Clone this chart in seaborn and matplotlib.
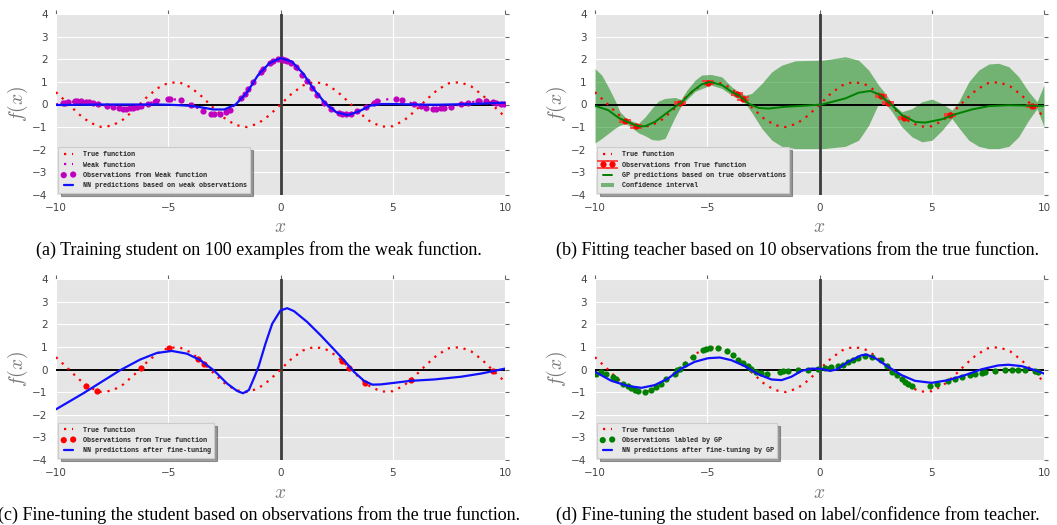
import matplotlib
matplotlib.use("Agg")
import matplotlib.pyplot as plt
from matplotlib.patches import Patch
import seaborn as sns

# --- shared curves (step 0.5) ---
x_grid = [-10.0, -9.5, -9.0, -8.5, -8.0, -7.5, -7.0, -6.5, -6.0, -5.5, -5.0, -4.5, -4.0, -3.5,
          -3.0, -2.5, -2.0, -1.5, -1.0, -0.5, 0.0, 0.5, 1.0, 1.5, 2.0, 2.5, 3.0, 3.5, 4.0, 4.5,
          5.0, 5.5, 6.0, 6.5, 7.0, 7.5, 8.0, 8.5, 9.0, 9.5, 10.0]
true_y = [0.544, 0.075, -0.412, -0.798, -0.989, -0.938, -0.657, -0.215, 0.279, 0.706, 0.959,
          0.978, 0.757, 0.351, -0.141, -0.598, -0.909, -0.997, -0.841, -0.479, 0.0, 0.479,
          0.841, 0.997, 0.909, 0.598, 0.141, -0.351, -0.757, -0.978, -0.959, -0.706, -0.279,
          0.215, 0.657, 0.938, 0.989, 0.798, 0.412, -0.075, -0.544]
weak_y = [0.0, 0.095, 0.142, 0.106, 0.0, -0.12, -0.182, -0.139, 0.0, 0.164, 0.255, 0.2, 0.0,
          -0.257, -0.424, -0.36, 0.0, 0.6, 1.273, 1.801, 2.0, 1.801, 1.273, 0.6, 0.0, -0.36,
          -0.424, -0.257, 0.0, 0.2, 0.255, 0.164, 0.0, -0.139, -0.182, -0.12, 0.0, 0.106,
          0.142, 0.095, 0.0]

# --- (a) weak observations and student NN ---
obs_a_x = [-9.70, -9.60, -9.48, -9.15, -9.06, -8.90, -8.66, -8.51, -8.36, -8.14, -7.72, -7.44,
           -7.20, -7.00, -6.88, -6.70, -6.55, -6.38, -6.21, -5.91, -5.61, -5.54, -5.01, -4.94,
           -4.42, -3.97, -3.45, -3.08, -2.95, -2.71, -2.41, -2.26, -1.74, -1.59, -1.44, -1.22,
           -0.85, -0.77, -0.48, -0.33, -0.10, 0.05, 0.12, 0.22, 0.27, 0.45, 0.67, 0.97, 1.19,
           1.41, 1.64, 1.93, 2.23, 2.60, 2.75, 2.90, 3.13, 3.42, 3.79, 4.17, 4.32, 5.13, 5.43,
           5.95, 6.25, 6.47, 6.80, 6.92, 7.14, 7.29, 7.59, 8.04, 8.33, 8.78, 8.85, 9.15, 9.45,
           9.60, 9.82, 9.95]
obs_a_y = [0.06, 0.078, 0.10, 0.135, 0.14, 0.141, 0.127, 0.107, 0.082, 0.034, -0.07, -0.132,
           -0.168, -0.182, -0.182, -0.17, -0.148, -0.113, -0.066, 0.03, 0.13, 0.152, 0.254,
           0.257, 0.177, -0.015, -0.28, -0.41, -0.43, -0.422, -0.317, -0.224, 0.291, 0.48,
           0.68, 0.982, 1.456, 1.547, 1.816, 1.912, 1.99, 2.0, 1.988, 1.961, 1.941, 1.838,
           1.65, 1.311, 1.023, 0.722, 0.416, 0.072, -0.202, -0.396, -0.428, -0.434, -0.398,
           -0.295, -0.109, 0.081, 0.141, 0.243, 0.184, 0.017, -0.078, -0.134, -0.178, -0.182,
           -0.174, -0.158, -0.101, 0.01, 0.076, 0.136, 0.14, 0.135, 0.103, 0.078, 0.036, 0.01]
nn_a_y = [-0.02, -0.02, -0.01, -0.01, 0.0, 0.0, 0.0, 0.0, 0.0, 0.0, -0.01, -0.03, -0.06, -0.13,
          -0.22, -0.22, 0.0, 0.52, 1.3, 1.82, 2.05, 1.9, 1.38, 0.65, 0.05, -0.35, -0.47, -0.3,
          -0.05, 0.02, 0.02, 0.01, 0.0, -0.01, -0.01, 0.0, 0.01, 0.02, 0.04, 0.06, 0.08]

# --- (b) teacher GP ---
obs_x = [-8.68, -8.16, -6.23, -4.96, -3.66, -3.40, 2.72, 3.03, 3.77, 5.81, 9.48]
obs_y = [-0.72, -0.97, 0.06, 0.97, 0.47, 0.26, 0.39, 0.06, -0.61, -0.48, -0.05]
obs_err = [0.05, 0.05, 0.05, 0.05, 0.05, 0.05, 0.05, 0.05, 0.05, 0.05, 0.05]
gp_x = [-10.0, -9.41, -8.96, -8.63, -8.07, -7.77, -7.33, -6.88, -6.43, -6.17, -5.69, -5.25,
        -4.87, -4.35, -3.91, -3.54, -3.16, -2.72, -2.27, -1.53, -0.79, 0.1, 1.15, 1.74, 2.26,
        2.63, 3.23, 3.67, 4.27, 4.71, 5.46, 6.05, 6.79, 7.54, 8.43, 9.69, 10.0]
gp_mean = [-0.06, -0.25, -0.58, -0.74, -0.96, -0.96, -0.77, -0.43, -0.10, 0.07, 0.56, 0.89,
           1.0, 0.86, 0.56, 0.37, 0.04, -0.15, -0.18, -0.10, -0.06, 0.0, 0.27, 0.52, 0.6,
           0.46, -0.03, -0.47, -0.77, -0.80, -0.65, -0.43, -0.22, -0.07, -0.03, -0.06, -0.06]
band_x = [-10.0, -9.70, -9.41, -9.11, -8.89, -8.63, -8.37, -8.07, -7.77, -7.47, -7.18, -6.88,
          -6.43, -6.17, -5.91, -5.54, -5.25, -4.83, -4.35, -3.91, -3.61, -3.31, -3.02, -2.57,
          -2.12, -1.68, -1.08, 0.18, 1.15, 1.74, 2.19, 2.63, 2.93, 3.23, 3.67, 4.12, 4.56,
          5.01, 5.46, 5.90, 6.20, 6.65, 7.09, 7.54, 7.98, 8.43, 8.87, 9.32, 9.69, 10.0]
band_hi = [1.59, 1.30, 0.78, 0.19, -0.32, -0.58, -0.72, -0.84, -0.55, -0.18, 0.15, 0.27,
           0.31, 0.22, 0.63, 1.08, 1.30, 1.33, 1.22, 0.78, 0.56, 0.41, 0.49, 0.93, 1.45, 1.74,
           1.93, 1.96, 2.11, 1.96, 1.52, 0.86, 0.49, 0.04, -0.32, -0.18, 0.12, 0.24, 0.04,
           -0.25, 0.12, 1.00, 1.52, 1.79, 1.82, 1.67, 1.23, 0.56, 0.12, 0.86]
band_lo = [-1.70, -1.50, -1.28, -1.05, -0.92, -0.84, -1.02, -1.25, -1.38, -1.55, -1.58, -1.50,
           -0.55, -0.07, 0.22, 0.58, 0.70, 0.86, 0.71, 0.41, 0.25, 0.05, -0.35, -1.06, -1.58,
           -1.85, -1.95, -1.95, -1.85, -1.58, -0.92, 0.04, 0.04, -0.32, -0.99, -1.43, -1.65,
           -1.58, -1.14, -0.62, -1.02, -1.58, -1.85, -1.95, -1.95, -1.85, -1.43, -0.69, -0.18,
           -0.99]

# --- (c) student fine-tuned on true observations ---
nn_c_x = [-10.0, -8.78, -8.04, -7.14, -6.25, -5.51, -4.84, -4.17, -3.57, -2.98, -2.38, -1.93,
          -1.67, -1.41, -1.19, -0.97, -0.67, -0.37, 0.0, 0.30, 0.60, 1.19, 1.79, 2.38, 2.83,
          3.27, 3.72, 4.09, 4.46, 5.06, 5.80, 6.85, 8.04, 8.93, 9.67, 10.0]
nn_c_y = [-1.76, -1.05, -0.59, -0.03, 0.44, 0.73, 0.82, 0.70, 0.41, -0.03, -0.62, -0.95,
          -1.05, -0.91, -0.40, 0.15, 1.14, 2.02, 2.61, 2.71, 2.58, 2.10, 1.51, 0.89, 0.41,
          -0.10, -0.50, -0.67, -0.66, -0.59, -0.50, -0.44, -0.32, -0.18, -0.03, 0.04]

# --- (d) student fine-tuned on GP labels ---
obs_d_x = [-9.94, -9.75, -9.49, -9.20, -9.05, -8.75, -8.53, -8.38, -8.23, -8.08, -7.79, -7.49,
           -7.27, -7.04, -6.82, -6.45, -6.33, -6.23, -6.00, -5.63, -5.19, -5.04, -4.89, -4.52,
           -4.10, -3.85, -3.63, -3.40, -3.18, -3.03, -2.81, -2.59, -2.36, -1.77, -1.62, -1.40,
           -0.95, -0.51, -0.06, 0.24, 0.46, 0.53, 0.83, 1.05, 1.28, 1.50, 1.72, 2.02, 2.32,
           2.76, 2.99, 3.21, 3.43, 3.66, 3.80, 3.95, 4.10, 4.92, 5.22, 5.74, 6.03, 6.33, 6.70,
           6.92, 7.22, 7.37, 7.82, 8.26, 8.56, 8.86, 9.15, 9.60, 9.75]
obs_d_y = [-0.18, -0.10, -0.21, -0.35, -0.40, -0.64, -0.73, -0.83, -0.91, -0.95, -0.98, -0.91,
           -0.76, -0.62, -0.44, -0.18, -0.03, 0.04, 0.26, 0.56, 0.88, 0.92, 0.97, 0.97, 0.82,
           0.66, 0.44, 0.29, 0.15, 0.04, -0.10, -0.15, -0.18, -0.10, -0.07, -0.06, -0.03, 0.0,
           0.03, 0.06, 0.07, 0.09, 0.15, 0.19, 0.34, 0.44, 0.53, 0.59, 0.56, 0.41, 0.15, -0.10,
           -0.25, -0.44, -0.54, -0.64, -0.73, -0.73, -0.66, -0.50, -0.41, -0.35, -0.25, -0.18,
           -0.15, -0.10, -0.06, -0.03, -0.03, -0.03, -0.03, -0.06, -0.10]
nn_d_x = [-10.0, -9.27, -8.53, -7.93, -7.34, -6.75, -6.15, -5.56, -4.96, -4.44, -3.92, -3.33,
          -2.73, -2.14, -1.69, -1.25, -0.80, -0.36, 0.09, 0.46, 0.76, 1.28, 1.87, 2.10, 2.47,
          3.06, 3.66, 4.25, 4.99, 5.74, 6.48, 7.22, 7.96, 8.41, 9.00, 9.60, 10.0]
nn_d_y = [-0.10, -0.50, -0.73, -0.81, -0.69, -0.40, 0.04, 0.34, 0.50, 0.53, 0.41, 0.15, -0.21,
          -0.44, -0.47, -0.32, -0.06, 0.04, 0.03, -0.06, 0.0, 0.34, 0.63, 0.66, 0.51, 0.12,
          -0.25, -0.50, -0.59, -0.47, -0.25, 0.01, 0.18, 0.21, 0.15, -0.03, -0.18]

captions = [
    "(a) Training student on 100 examples from the weak function.",
    "(b) Fitting teacher based on 10 observations from the true function.",
    "(c) Fine-tuning the student based on observations from the true function.",
    "(d) Fine-tuning the student based on label/confidence from teacher.",
]

sns.set_style("darkgrid", {"axes.facecolor": "#E5E5E5", "grid.color": "white"})
plt.rcParams["font.family"] = ["DejaVu Sans"]
plt.rcParams["mathtext.fontset"] = "cm"

dot = (0, (1, 2.6))
W, H = 1057, 525
fig = plt.figure(figsize=(W / 100, H / 100), dpi=100)
boxes = [(56, 14), (595, 14), (56, 279), (595, 279)]
axes = []
for (l, t) in boxes:
    ax = fig.add_axes([l / W, 1 - (t + 181) / H, 449 / W, 181 / H])
    axes.append(ax)

leg_kw = dict(loc="lower left", numpoints=2, scatterpoints=2, frameon=True, shadow=True,
              fancybox=False, prop={"family": "Liberation Mono", "size": 4.85, "weight": "bold"},
              borderpad=0.55, labelspacing=0.5, handlelength=2.0, handletextpad=1.1,
              borderaxespad=0.3)


def base(ax):
    ax.axhline(0, color="black", lw=1.4, zorder=3)
    ax.axvline(0, color="#3c3c3c", lw=2.0, zorder=3)
    ax.set_xlim(-10, 10)
    ax.set_ylim(-4, 4)
    ax.set_xticks([-10, -5, 0, 5, 10])
    ax.set_yticks([-4, -3, -2, -1, 0, 1, 2, 3, 4])
    ax.tick_params(direction="out", length=3, width=0.8, color="#666666", labelcolor="#444444",
                   labelsize=7.5, top=True, right=True, pad=3)
    for s in ax.spines.values():
        s.set_visible(False)
    ax.set_xlabel("$x$", fontsize=14, color="#777777", labelpad=3)
    ax.set_ylabel("$f(x)$", fontsize=14, color="#777777", labelpad=2)


def legend(ax, handles=None, labels=None):
    if handles is None:
        lg = ax.legend(**leg_kw)
    else:
        lg = ax.legend(handles, labels, **leg_kw)
    lg.get_frame().set_facecolor("#E8E8E8")
    lg.get_frame().set_edgecolor("#CCCCCC")
    lg.get_frame().set_linewidth(0.8)
    lg.get_frame().set_alpha(1)
    lg.set_zorder(10)


# (a)
ax = axes[0]
sns.lineplot(x=x_grid, y=true_y, ax=ax, color="red", lw=1.6, linestyle=dot, label="True function", zorder=4)
sns.lineplot(x=x_grid, y=weak_y, ax=ax, color="m", lw=1.6, linestyle=dot, label="Weak function", zorder=4)
sns.scatterplot(x=obs_a_x, y=obs_a_y, ax=ax, color="m", s=20, linewidth=0,
                label="Observations from Weak function", zorder=5)
sns.lineplot(x=x_grid, y=nn_a_y, ax=ax, color="#1010ff", lw=1.6, label="NN predictions based on weak observations", zorder=6)
base(ax)
legend(ax)

# (b)
ax = axes[1]
ax.fill_between(band_x, band_lo, band_hi, color="green", alpha=0.5, lw=0, zorder=2)
sns.lineplot(x=x_grid, y=true_y, ax=ax, color="red", lw=1.6, linestyle=dot, label="True function", zorder=4)
ax.errorbar(obs_x, obs_y, yerr=obs_err, fmt="o", color="red", ms=3.5, ecolor="#ff3030",
            elinewidth=1.5, capsize=4, capthick=1.2, label="Observations from True function", zorder=5)
sns.lineplot(x=gp_x, y=gp_mean, ax=ax, color="green", lw=1.4, label="GP predictions based on true observations", zorder=6)
base(ax)
h, lab = ax.get_legend_handles_labels()
h.append(Patch(facecolor="green", alpha=0.5, edgecolor="none"))
lab.append("Confidence interval")
order = [lab.index("True function"), lab.index("Observations from True function"),
         lab.index("GP predictions based on true observations"), lab.index("Confidence interval")]
legend(ax, [h[i] for i in order], [lab[i] for i in order])

# (c)
ax = axes[2]
sns.lineplot(x=x_grid, y=true_y, ax=ax, color="red", lw=1.6, linestyle=dot, label="True function", zorder=4)
sns.scatterplot(x=obs_x, y=obs_y, ax=ax, color="red", s=20, linewidth=0,
                label="Observations from True function", zorder=5)
sns.lineplot(x=nn_c_x, y=nn_c_y, ax=ax, color="#1010ff", lw=1.6, label="NN predictions after fine-tuning", zorder=6)
base(ax)
legend(ax)

# (d)
ax = axes[3]
sns.lineplot(x=x_grid, y=true_y, ax=ax, color="red", lw=1.6, linestyle=dot, label="True function", zorder=4)
sns.scatterplot(x=obs_d_x, y=obs_d_y, ax=ax, color="green", s=20, linewidth=0,
                label="Observations labled by GP", zorder=5)
sns.lineplot(x=nn_d_x, y=nn_d_y, ax=ax, color="#1010ff", lw=1.6, label="NN predictions after fine-tuning by GP", zorder=6)
base(ax)
legend(ax)

cap_pos = [(259, 250), (797, 250), (259, 515), (798, 515)]
for (cx, cy), txt in zip(cap_pos, captions):
    fig.text(cx / W, 1 - cy / H, txt, ha="center", va="center", fontsize=13,
             family="Liberation Serif", color="black")

fig.savefig("out.png", dpi=100)
